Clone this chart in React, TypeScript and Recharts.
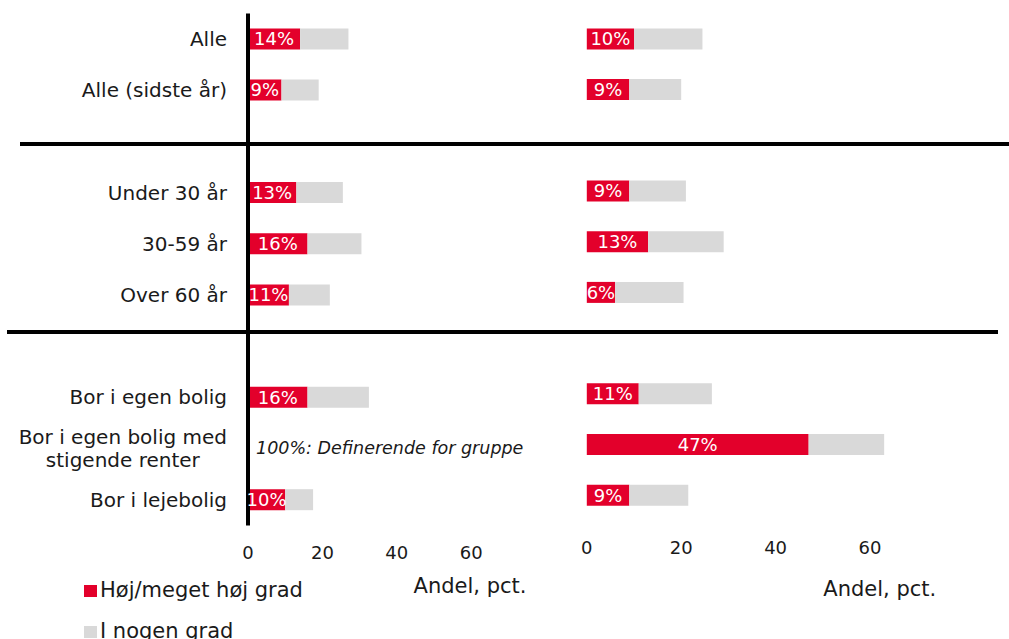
import { BarChart, Bar, XAxis, YAxis, LabelList, ReferenceDot } from 'recharts'

// Kategorier (tomme strenge = luft mellem grupperne)
const categories = [
  'Alle',
  'Alle (sidste år)',
  ' ',
  'Under 30 år',
  '30-59 år',
  'Over 60 år',
  '  ',
  'Bor i egen bolig',
  'Bor i egen bolig med stigende renter',
  'Bor i lejebolig',
]

// venstre panel
const leftHigh = [14, 9, null, 13, 16, 11, null, 16, null, 10]
const leftSome = [13, 10, null, 12.5, 14.5, 11, null, 16.5, null, 7.5]

// højre panel
const rightHigh = [10, 9, null, 9, 13, 6, null, 11, 47, 9]
const rightSome = [14.5, 11, null, 12, 16, 14.5, null, 15.5, 16, 12.5]

const xTicks = [0, 20, 40, 60]
const seriesNames = ['Høj/meget høj grad', 'I nogen grad']
const axisTitle = 'Andel, pct.'
const noteCategory = 'Bor i egen bolig med stigende renter'
const noteText = '100%: Definerende for gruppe'

const RED = '#e3002b'
const GREY = '#d9d9d9'
const INK = '#1a1a1a'
const FONT = '"DejaVu Sans", sans-serif'
const TICK_FONT = `20px ${FONT}`

const leftData = categories.map((cat, i) => ({ cat, high: leftHigh[i], some: leftSome[i] }))
const rightData = categories.map((cat, i) => ({ cat, high: rightHigh[i], some: rightSome[i] }))

const pct = (v: unknown) => (v == null ? '' : `${v}%`)

let ctx: CanvasRenderingContext2D | null = null
function measure(text: string, font: string): number {
  if (!ctx) ctx = document.createElement('canvas').getContext('2d')
  if (!ctx) return text.length * 11
  ctx.font = font
  return ctx.measureText(text).width
}

function wrapWords(text: string, maxWidth: number): string[] {
  const lines: string[] = []
  let cur = ''
  for (const w of text.split(' ')) {
    const next = cur ? `${cur} ${w}` : w
    if (cur && measure(next, TICK_FONT) > maxWidth) {
      lines.push(cur)
      cur = w
    } else {
      cur = next
    }
  }
  if (cur) lines.push(cur)
  return lines
}

function CategoryTick(props: any) {
  const { x, y, payload } = props
  const label = String(payload?.value ?? '').trim()
  if (!label) return null
  const lines = wrapWords(label, 225)
  const common = { fontSize: 20, fontFamily: FONT, fill: INK }
  if (lines.length === 1) {
    return (
      <text x={x} y={y} dy={7} textAnchor="end" {...common}>
        {label}
      </text>
    )
  }
  // flere linjer: centreret under hinanden, blokken højrestillet
  const blockW = Math.max(...lines.map((l) => measure(l, TICK_FONT)))
  const cx = x - blockW / 2
  const lh = 23.5
  const first = 7 - ((lines.length - 1) * lh) / 2
  return (
    <text textAnchor="middle" {...common}>
      {lines.map((l, i) => (
        <tspan key={i} x={cx} y={y + first + i * lh}>
          {l}
        </tspan>
      ))}
    </text>
  )
}

function NoteLabel(props: any) {
  const { viewBox } = props
  return (
    <text
      x={viewBox.x + 8}
      y={viewBox.y + 5}
      fontSize={17.5}
      fontStyle="italic"
      fontFamily={FONT}
      fill={INK}
    >
      {noteText}
    </text>
  )
}

const axisTitleAt = (dx: number, dy: number) => (props: any) => {
  const { viewBox } = props
  return (
    <text
      x={viewBox.x + dx}
      y={viewBox.y + dy}
      textAnchor="middle"
      fontSize={21}
      fontFamily={FONT}
      fill={INK}
    >
      {axisTitle}
    </text>
  )
}

const xTick = { fontSize: 18, fill: INK, fontFamily: FONT }
const barLabel = { fontSize: 18, fill: '#fff', fontFamily: FONT }

export default function App() {
  return (
    <div
      style={{
        position: 'absolute',
        left: 0,
        top: 0,
        width: 1009,
        height: 639,
        background: '#fff',
        overflow: 'hidden',
        fontFamily: FONT,
      }}
    >
      <div style={{ position: 'absolute', left: 0, top: 0 }}>
        <BarChart
          width={560}
          height={639}
          data={leftData}
          layout="vertical"
          margin={{ top: 13.4, right: 14.4, bottom: 0, left: 0 }}
        >
          <XAxis
            type="number"
            domain={[0, 80]}
            ticks={xTicks}
            axisLine={false}
            tickLine={false}
            tickMargin={15}
            height={113.6}
            tick={xTick}
            label={{ content: axisTitleAt(222, 67.5) }}
          />
          <YAxis
            type="category"
            dataKey="cat"
            width={248}
            axisLine={{ stroke: '#000', strokeWidth: 4 }}
            tickLine={false}
            tickMargin={15}
            interval={0}
            tick={<CategoryTick />}
          />
          <Bar dataKey="high" stackId="a" fill={RED} barSize={21} isAnimationActive={false}>
            <LabelList dataKey="high" position="center" formatter={pct} {...barLabel} />
          </Bar>
          <Bar dataKey="some" stackId="a" fill={GREY} barSize={21} isAnimationActive={false} />
          <ReferenceDot
            x={0}
            y={noteCategory}
            r={0}
            fill="none"
            stroke="none"
            ifOverflow="visible"
            label={{ content: NoteLabel }}
          />
        </BarChart>
      </div>

      <div style={{ position: 'absolute', left: 560, top: 0 }}>
        <BarChart
          width={449}
          height={639}
          data={rightData}
          layout="vertical"
          margin={{ top: 13.4, right: 44.6, bottom: 0, left: 26.8 }}
        >
          <XAxis
            type="number"
            domain={[0, 80]}
            ticks={xTicks}
            axisLine={false}
            tickLine={false}
            tickMargin={15}
            height={118.6}
            tick={xTick}
            label={{ content: axisTitleAt(293, 76) }}
          />
          <YAxis type="category" dataKey="cat" hide />
          <Bar dataKey="high" stackId="a" fill={RED} barSize={21} isAnimationActive={false}>
            <LabelList dataKey="high" position="center" formatter={pct} {...barLabel} />
          </Bar>
          <Bar dataKey="some" stackId="a" fill={GREY} barSize={21} isAnimationActive={false} />
        </BarChart>
      </div>

      {/* skillelinjer mellem grupperne */}
      <div style={{ position: 'absolute', left: 20, top: 141.5, width: 989, height: 4, background: '#000' }} />
      <div style={{ position: 'absolute', left: 7, top: 329.5, width: 991, height: 4, background: '#000' }} />

      {/* forklaring */}
      {seriesNames.map((name, i) => (
        <div key={name}>
          <div
            style={{
              position: 'absolute',
              left: 84,
              top: 585 + i * 41,
              width: 13,
              height: 12,
              background: i === 0 ? RED : GREY,
            }}
          />
          <div
            style={{
              position: 'absolute',
              left: 100,
              top: 580 + i * 41,
              fontSize: 21,
              lineHeight: '20px',
              color: INK,
              whiteSpace: 'nowrap',
            }}
          >
            {name}
          </div>
        </div>
      ))}
    </div>
  )
}
